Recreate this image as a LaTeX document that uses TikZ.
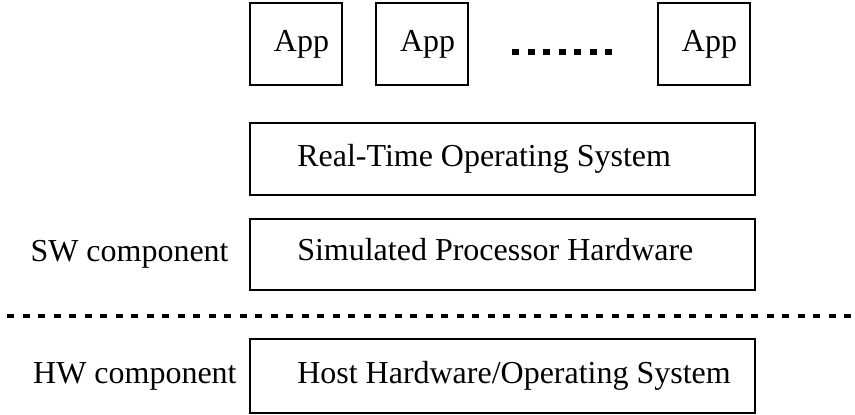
\documentclass[tikz,border=0pt]{standalone}
\usepackage{fontspec}
\setmainfont{Liberation Serif}
\usetikzlibrary{positioning}

\begin{document}
\begin{tikzpicture}[
					font=\fontsize{18.2}{22}\selectfont,
					app/.style={draw, line width=1.2pt, minimum width=1.84cm, minimum height=1.64cm, inner sep=0pt, execute at begin node=\hspace*{0.22cm}},
					layer/.style={draw, line width=1.2pt, minimum width=10.1cm, inner sep=0pt},
					txt/.style={inner sep=0pt},
					sep/.style={line width=2.6pt, dash pattern=on 0.14cm off 0.17cm},
				]
			        \useasboundingbox (0, 0) rectangle (17.1, -8.28);

			        \node[app] (app1) at (5.92, -0.88) {App};
			        \node[app, right=0.64cm of app1] (app2) {App};
			        \node[app] (app3) at (14.08, -0.88) {App};
			        \coordinate (dotsL) at (10.24, -1.04);
			        \coordinate (dotsR) at (12.24, -1.04);
			        \draw[sep, line width=2.9pt] (dotsL) -- (dotsR);

			        \node[layer, minimum height=1.44cm] (rtos) at (10.05, -3.18) {};
			        \node[txt, right=0.96cm of rtos.west] (rtostxt) {Real-Time Operating System};

			        \node[layer, minimum height=1.42cm] (sph) at (10.05, -5.09) {};
			        \node[txt, right=0.96cm of sph.west, yshift=0.1cm] (sphtxt) {Simulated Processor Hardware};
			        \node[txt, left=0.4cm of sph.west] (sw) {SW component};

			        \coordinate (sepL) at (0.14, -6.32);
			        \coordinate (sepR) at (17.04, -6.32);
			        \draw[sep] (sepL) -- (sepR);

			        \node[layer, minimum height=1.48cm] (host) at (10.05, -7.52) {};
			        \node[txt, right=0.96cm of host.west] (hosttxt) {Host Hardware/Operating System};
			        \node[txt, left=0.24cm of host.west] (hw) {HW component};
			    \end{tikzpicture}
\end{document}
